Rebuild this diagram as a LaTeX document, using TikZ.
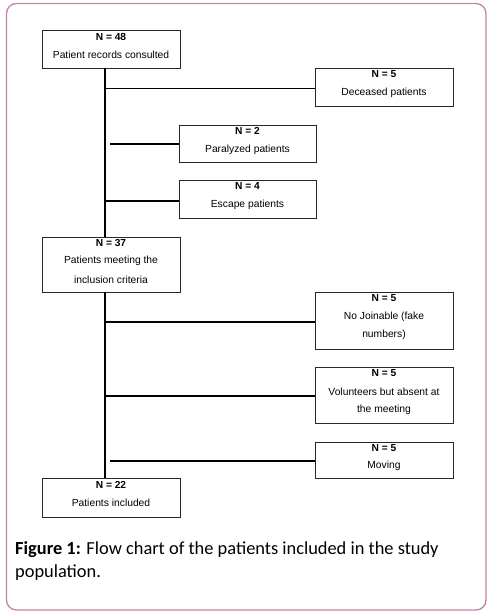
\documentclass[tikz,border=0pt]{standalone}
\usepackage{fontspec}
\setmainfont{Liberation Sans}
\newfontfamily\capfont{Carlito}
\definecolor{framepink}{RGB}{196,130,172}
\definecolor{boxgray}{RGB}{40,40,40}
\begin{document}
\begin{tikzpicture}[x=1pt,y=-1pt,
  box/.style={draw=boxgray,line width=0.9pt,inner sep=0pt,anchor=north west},
  thick connector/.style={line width=2pt,line cap=butt},
  thin connector/.style={line width=1pt},
  nlab/.style={font=\fontsize{10.2}{11}\selectfont\bfseries},
  tlab/.style={font=\fontsize{10.3}{11}\selectfont}]
\useasboundingbox (0,0) rectangle (493,615);
\draw[framepink,line width=1.3pt,rounded corners=10pt] (6.5,3.5) rectangle (486,610);
% boxes
\node[box,minimum width=138pt,minimum height=38pt] (b48) at (42,30) {};
\node[nlab] at (111,37) {N = 48};
\node[tlab] at (111,55) {Patient records consulted};

\node[box,minimum width=138pt,minimum height=38pt] (dec) at (315,68) {};
\node[nlab] at (384,74) {N = 5};
\node[tlab] at (384,93) {Deceased patients};

\node[box,minimum width=137pt,minimum height=37pt] (par) at (179,125) {};
\node[nlab] at (247.5,131) {N = 2};
\node[tlab] at (247.5,150) {Paralyzed patients};

\node[box,minimum width=137pt,minimum height=38pt] (esc) at (179,180) {};
\node[nlab] at (247.5,186) {N = 4};
\node[tlab] at (247.5,205) {Escape patients};

\node[box,minimum width=138pt,minimum height=55pt] (b37) at (42,237) {};
\node[nlab] at (111,243) {N = 37};
\node[tlab] at (111,261) {Patients meeting the};
\node[tlab] at (111,280) {inclusion criteria};

\node[box,minimum width=138pt,minimum height=57pt] (noj) at (315,292) {};
\node[nlab] at (384,298) {N = 5};
\node[tlab] at (384,317) {No Joinable (fake};
\node[tlab] at (384,335) {numbers)};

\node[box,minimum width=138pt,minimum height=56pt] (vol) at (315,367) {};
\node[nlab] at (384,373) {N = 5};
\node[tlab] at (384,392) {Volunteers but absent at};
\node[tlab] at (384,410) {the meeting};

\node[box,minimum width=138pt,minimum height=36pt] (mov) at (315,442) {};
\node[nlab] at (384,448) {N = 5};
\node[tlab] at (384,466) {Moving};

\node[box,minimum width=138pt,minimum height=39pt] (b22) at (42,478) {};
\node[nlab] at (111,485) {N = 22};
\node[tlab] at (111,503) {Patients included};

% connectors
\coordinate (s1) at (105,68);
\coordinate (s2) at (105,292);
\draw[thick connector] (s1) -- (105,237);
\draw[thick connector] (s2) -- (105,478);
\draw[thin connector] (105,89) -- (dec.west |- 0,89);
\draw[thick connector] (110,144) -- (par.west |- 0,144);
\draw[thick connector] (105,201) -- (esc.west |- 0,201);
\draw[thick connector] (105,322) -- (noj.west |- 0,322);
\draw[thick connector] (105,396) -- (vol.west |- 0,396);
\draw[thick connector] (110,461) -- (mov.west |- 0,461);

% caption
\node[anchor=west,font=\capfont\fontsize{18.4}{22}\selectfont,inner sep=0pt] (cap1) at (15,550) {\textbf{Figure 1:} Flow chart of the patients included in the study};
\node[anchor=west,font=\capfont\fontsize{18.4}{22}\selectfont,inner sep=0pt] (cap2) at (15,573) {population.};
\end{tikzpicture}
\end{document}
